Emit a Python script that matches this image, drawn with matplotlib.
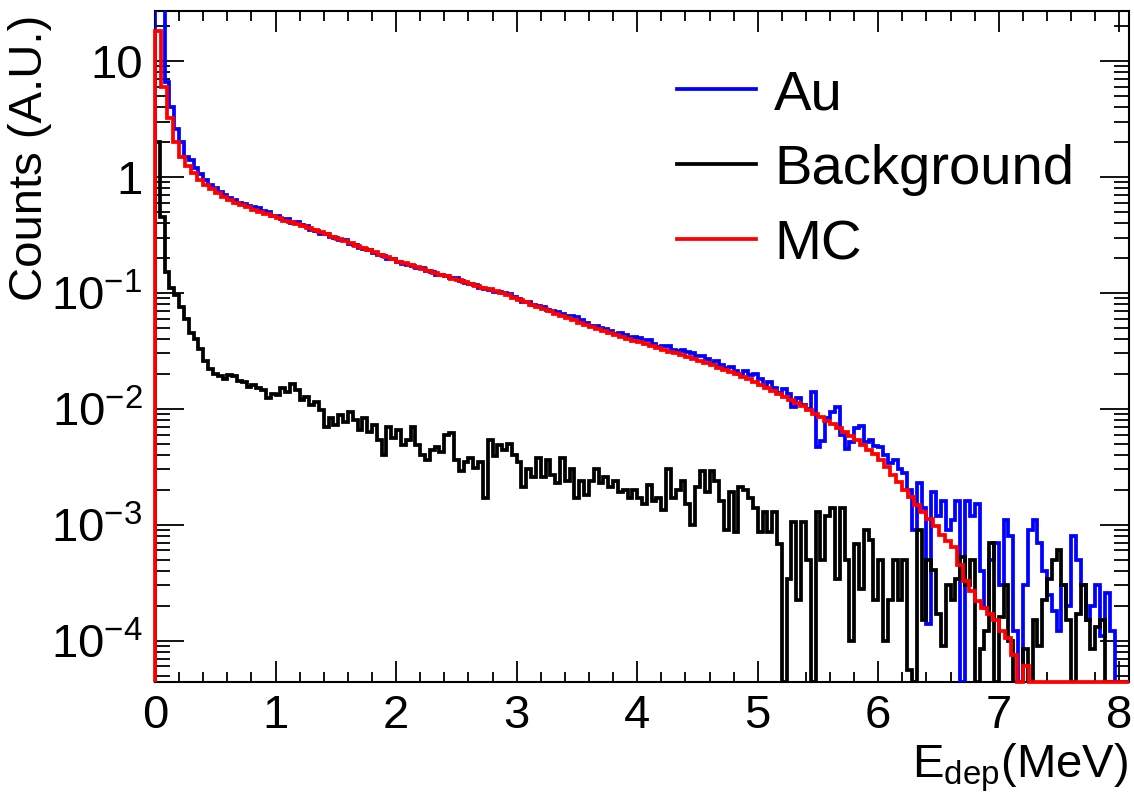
import numpy as np
import matplotlib
matplotlib.use("Agg")
import matplotlib.pyplot as plt
from matplotlib.ticker import FixedLocator, FixedFormatter, NullFormatter

# energy deposit spectra, counts per bin
data_bin = 0.04   # MeV, Au and background
mc_bin = 0.05     # MeV, simulation

au_counts = [
    30, 30, 6.6, 4.0, 2.6, 2.0, 1.5, 1.4, 1.2, 1.06,
    0.95, 0.86, 0.80, 0.74, 0.70, 0.66, 0.63, 0.60, 0.58, 0.56,
    0.553, 0.536, 0.507, 0.502, 0.464, 0.46, 0.435, 0.436, 0.404, 0.405,
    0.382, 0.378, 0.348, 0.344, 0.324, 0.324, 0.302, 0.298, 0.284, 0.284,
    0.262, 0.259, 0.244, 0.238, 0.235, 0.219, 0.214, 0.209, 0.197, 0.195,
    0.186, 0.178, 0.173, 0.171, 0.163, 0.163, 0.153, 0.152, 0.144, 0.142,
    0.141, 0.135, 0.134, 0.127, 0.122, 0.120, 0.117, 0.110, 0.107, 0.106,
    0.102, 0.102, 0.100, 0.0975, 0.093, 0.0887, 0.0837, 0.0826, 0.078, 0.0771,
    0.0752, 0.071, 0.0692, 0.0684, 0.0653, 0.0637, 0.063, 0.0614, 0.0586, 0.0552,
    0.0521, 0.0514, 0.0498, 0.0489, 0.0469, 0.0446, 0.0453, 0.043, 0.0407, 0.0415,
    0.0412, 0.0395, 0.0393, 0.036, 0.0342, 0.0348, 0.0345, 0.0321, 0.0318, 0.0324,
    0.0307, 0.0305, 0.0283, 0.0286, 0.027, 0.0249, 0.0257, 0.0237, 0.0223, 0.0231,
    0.0213, 0.020, 0.0212, 0.0195, 0.020, 0.0182, 0.0162, 0.0169, 0.0151, 0.0137,
    0.0147, 0.0134, 0.0104, 0.0125, 0.0108, 0.00995, 0.0139, 0.00465, 0.0053, 0.0083,
    0.0094, 0.0104, 0.0059, 0.0045, 0.0052, 0.0068, 0.0071, 0.0052, 0.0054, 0.0048,
    0.0047, 0.0040, 0.0034, 0.0036, 0.0030, 0.0028, 0.0020, 0.0009, 0.0023, 0.0014,
    0.00014, 0.0019, 0.0012, 0.0016, 0.0009, 0.0011, 0.0016, 0, 0.0016, 0.0012,
    0.0015, 0.0004, 0.00019, 0.0005, 0.0007, 0.0003, 0.0011, 0.0008, 0.00012, 0,
    0.0003, 0.0009, 0.0011, 0.0007, 0.0004, 0.00025, 0.00018, 0.00012, 0.0003, 0.0002,
    0.0008, 0.0005, 0.0003, 0.00015, 0.0002, 0.0003, 0.00011, 0.00026, 0.00012, 0,
    0, 0,
]

bkg_counts = [
    2.0, 0.45, 0.15, 0.11, 0.095, 0.075, 0.06, 0.045, 0.04, 0.033,
    0.026, 0.022, 0.020, 0.019, 0.018, 0.0195, 0.019, 0.0175, 0.017, 0.0155,
    0.016, 0.015, 0.0145, 0.0125, 0.0135, 0.0132, 0.015, 0.014, 0.0165, 0.0146,
    0.012, 0.0126, 0.0108, 0.0114, 0.0098, 0.007, 0.0083, 0.0073, 0.0089, 0.0077,
    0.0094, 0.008, 0.0066, 0.0083, 0.0063, 0.0073, 0.0054, 0.004, 0.007, 0.0056,
    0.0066, 0.0049, 0.0054, 0.0069, 0.0049, 0.004, 0.0036, 0.0044, 0.0047, 0.0042,
    0.006, 0.0062, 0.0036, 0.0029, 0.0035, 0.0038, 0.0031, 0.0035, 0.0017, 0.0054,
    0.0039, 0.0049, 0.0044, 0.005, 0.004, 0.0035, 0.0021, 0.003, 0.0026, 0.0038,
    0.0026, 0.0036, 0.0027, 0.0023, 0.0038, 0.0024, 0.003, 0.0017, 0.0024, 0.0018,
    0.0024, 0.003, 0.0023, 0.0026, 0.0021, 0.0024, 0.0019, 0.002, 0.0017, 0.002,
    0.0017, 0.0015, 0.0022, 0.0016, 0.0017, 0.00135, 0.003, 0.0017, 0.002, 0.0024,
    0.0015, 0.001, 0.0021, 0.0029, 0.0019, 0.0029, 0.0024, 0.0016, 0.0009, 0.0019,
    0.00086, 0.0021, 0.002, 0.0017, 0.0014, 0.00086, 0.0013, 0.00086, 0.0013, 0.00068,
    0, 0.00034, 0.00105, 0.000225, 0.00105, 0.0005, 0, 0.0013, 0.0005, 0.0012,
    0.0014, 0.00034, 0.0014, 0.0005, 0.0001, 0.00068, 0.00028, 0.0009, 0.00074, 0.000225,
    0.0005, 0.0001, 0.000225, 0.0005, 0.000225, 0.0005, 0.000056, 0, 0.0009, 0.00015,
    0.0005, 0.00041, 0.00017, 0.00009, 0.0003, 0.000225, 0.00034, 0.00053, 0.0003, 0.0005,
    0, 0.000084, 0.00012, 0.0007, 0, 0.00016, 0.0003, 0.0001, 0, 0,
    0.000084, 0, 0.00015, 0.00009, 0.000225, 0.00034, 0.0005, 0.00061, 0.0003, 0.00015,
    0, 0.00017, 0.0003, 0.00015, 0.000084, 0.00013, 0.00015, 0, 0, 0,
    0, 0,
]

mc_counts = [
    18, 6.0, 3.2, 2.0, 1.5, 1.25, 1.08, 0.95, 0.86, 0.78,
    0.72, 0.67, 0.63, 0.60, 0.57, 0.545, 0.52, 0.50, 0.48, 0.46,
    0.44, 0.42, 0.405, 0.39, 0.375, 0.363, 0.348, 0.333, 0.319, 0.305,
    0.292, 0.279, 0.267, 0.255, 0.244, 0.234, 0.223, 0.214, 0.205, 0.196,
    0.186, 0.18, 0.173, 0.167, 0.161, 0.155, 0.149, 0.144, 0.139, 0.133,
    0.128, 0.124, 0.119, 0.115, 0.111, 0.107, 0.103, 0.099, 0.095, 0.090,
    0.0865, 0.0828, 0.079, 0.0757, 0.0724, 0.0692, 0.0662, 0.0634, 0.0605, 0.058,
    0.0555, 0.0531, 0.0507, 0.0485, 0.0467, 0.045, 0.0434, 0.0418, 0.0403, 0.0388,
    0.0374, 0.036, 0.0348, 0.0335, 0.0323, 0.0311, 0.030, 0.0289, 0.0279, 0.0269,
    0.0259, 0.0247, 0.0237, 0.0226, 0.0216, 0.0207, 0.0198, 0.0189, 0.0181, 0.017,
    0.016, 0.0151, 0.0143, 0.0135, 0.0127, 0.012, 0.0113, 0.0106, 0.0098, 0.0091,
    0.0085, 0.0079, 0.00736, 0.00684, 0.00637, 0.00586, 0.00535, 0.00488, 0.00445, 0.00406,
    0.00363, 0.00313, 0.00269, 0.00232, 0.0020, 0.00173, 0.00148, 0.00129, 0.00112, 0.00098,
    0.00082, 0.00072, 0.00064, 0.00045, 0.00033, 0.00027, 0.00022, 0.00019, 0.00017, 0.00015,
    0.00012, 0.000105, 0.000075, 0, 0.00006, 0, 0, 0, 0, 0,
    0, 0, 0, 0, 0, 0, 0, 0, 0, 0,
    0, 0,
]

y_ticks = [1e-4, 1e-3, 1e-2, 1e-1, 1, 10]
y_labels = [r"$10^{-4}$", r"$10^{-3}$", r"$10^{-2}$", r"$10^{-1}$", "1", "10"]
x_ticks = [0, 1, 2, 3, 4, 5, 6, 7, 8]

plt.rcParams["font.family"] = ["Liberation Sans", "DejaVu Sans"]
plt.rcParams["mathtext.fontset"] = "custom"
plt.rcParams["mathtext.rm"] = "Liberation Sans"
plt.rcParams["mathtext.it"] = "Liberation Sans:italic"
plt.rcParams["mathtext.bf"] = "Liberation Sans:bold"

ymin, ymax = 4.4e-5, 27
xmin, xmax = 0, 8.08

fig = plt.figure(figsize=(11.34, 7.96), dpi=100)
ax = fig.add_axes([155 / 1134, 1 - 682 / 796, 974 / 1134, 671 / 796])


def hist(counts, width, color, label, clip=True):
    c = np.array(counts, dtype=float)
    edges = np.arange(len(c) + 1) * width
    # empty bins sit on the frame like in ROOT
    c = np.where(c > 0, c, ymin)
    # stop at the right frame
    keep = edges[:-1] < xmax
    c = c[keep]
    edges = np.append(edges[:-1][keep], xmax)
    ax.stairs(c, edges, baseline=ymin, color=color, lw=2.7, label=label, zorder=3, clip_on=clip)


hist(au_counts, data_bin, "#0000ff", "Au")
hist(bkg_counts, data_bin, "black", "Background")
hist(mc_counts, mc_bin, "#ff0000", "MC", clip=False)

ax.set_yscale("log")
ax.set_ylim(ymin, ymax)
ax.set_xlim(xmin, xmax)

ax.yaxis.set_major_locator(FixedLocator(y_ticks))
ax.yaxis.set_major_formatter(FixedFormatter(y_labels))
minors = [m * 10.0 ** e for e in range(-5, 2) for m in range(2, 10)]
ax.yaxis.set_minor_locator(FixedLocator(minors))
ax.yaxis.set_minor_formatter(NullFormatter())
ax.xaxis.set_major_locator(FixedLocator(x_ticks))
ax.xaxis.set_minor_locator(FixedLocator(np.arange(0, 8.1, 0.2)))

ax.tick_params(which="both", direction="in", top=True, right=True, width=1.3, colors="black")
ax.tick_params(axis="x", which="major", length=15, labelsize=34, pad=9)
ax.tick_params(axis="x", which="minor", length=7.5)
ax.tick_params(axis="y", which="major", length=21, labelsize=34, pad=9)
ax.tick_params(axis="y", which="minor", length=10.5)
for s in ax.spines.values():
    s.set_linewidth(1.5)

ax.set_xlabel(r"E$_{\mathrm{dep}}$(MeV)", fontsize=34, loc="right")
ax.xaxis.set_label_coords(0.999, -0.088)
ax.xaxis.label.set_va("top")
ax.set_ylabel("Counts (A.U.)", fontsize=34, loc="top")
ax.yaxis.set_label_coords(-0.106, 0.995)

ax.legend(loc="upper left", bbox_to_anchor=(677 / 1134, 1 - 69 / 796), bbox_transform=fig.transFigure,
          frameon=False, fontsize=40.5, handlelength=1.4, handletextpad=0.33, labelspacing=0.41,
          borderpad=0, borderaxespad=0)

fig.savefig("out.png", dpi=100)
